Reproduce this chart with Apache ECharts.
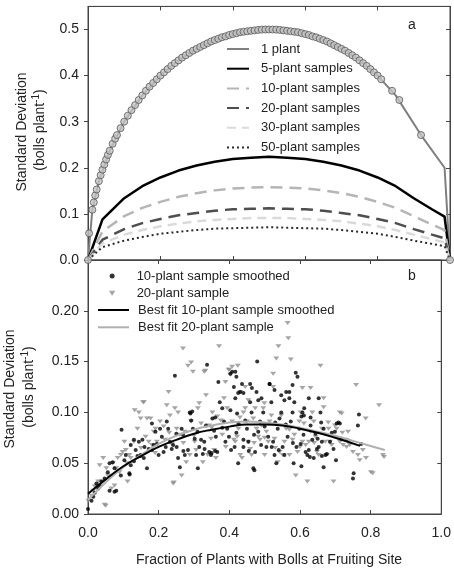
<!DOCTYPE html>
<html>
<head>
<meta charset="utf-8">
<script src="https://cdn.jsdelivr.net/npm/echarts@6/dist/echarts.min.js"></script>
<style>
  html, body { margin: 0; padding: 0; background: #fff; }
  #chart { width: 454px; height: 570px; }
</style>
</head>
<body>
<div id="chart"></div>
<script>
// panel a: SD of fraction vs fraction, for different sample sizes
const fracGrid = [0, 0.04, 0.1, 0.15, 0.2, 0.25, 0.3, 0.35, 0.4, 0.45, 0.5, 0.55, 0.6, 0.65, 0.7, 0.75, 0.8, 0.85, 0.9, 0.95, 0.985, 1.0];
const sd5  = [0, 0.088, 0.134, 0.160, 0.179, 0.194, 0.205, 0.213, 0.219, 0.222, 0.224, 0.222, 0.219, 0.213, 0.205, 0.194, 0.179, 0.160, 0.134, 0.110, 0.094, 0];
const sd10 = [0, 0.062, 0.095, 0.113, 0.126, 0.137, 0.145, 0.151, 0.155, 0.157, 0.158, 0.157, 0.155, 0.151, 0.145, 0.137, 0.126, 0.113, 0.095, 0.077, 0.065, 0];
const sd20 = [0, 0.044, 0.067, 0.080, 0.089, 0.097, 0.102, 0.107, 0.110, 0.111, 0.112, 0.111, 0.110, 0.107, 0.102, 0.097, 0.089, 0.080, 0.067, 0.055, 0.047, 0];
const sd30 = [0, 0.036, 0.055, 0.065, 0.073, 0.079, 0.084, 0.087, 0.089, 0.091, 0.091, 0.091, 0.089, 0.087, 0.084, 0.079, 0.073, 0.065, 0.055, 0.045, 0.038, 0];
const sd50 = [0, 0.028, 0.042, 0.050, 0.057, 0.061, 0.065, 0.068, 0.069, 0.070, 0.071, 0.070, 0.069, 0.068, 0.065, 0.061, 0.057, 0.050, 0.042, 0.035, 0.030, 0];

// 1 plant line
const onePlantX = [0, 0.012, 0.03, 0.06, 0.1, 0.15, 0.2, 0.25, 0.3, 0.35, 0.4, 0.45, 0.5, 0.55, 0.6, 0.65, 0.7, 0.75, 0.8, 0.85, 0.92, 0.985, 1.0];
const onePlantY = [0, 0.109, 0.171, 0.237, 0.300, 0.357, 0.400, 0.433, 0.458, 0.477, 0.490, 0.497, 0.500, 0.497, 0.490, 0.477, 0.458, 0.433, 0.400, 0.357, 0.271, 0.200, 0];

// 1 plant observed (circles)
const obsX = [0, 0.003, 0.012, 0.016, 0.02, 0.024, 0.03, 0.035, 0.04, 0.045, 0.05, 0.055, 0.06, 0.068, 0.075, 0.08, 0.09, 0.1, 0.11, 0.12, 0.13, 0.14, 0.15, 0.16, 0.17, 0.18, 0.19, 0.2, 0.21, 0.22, 0.23, 0.24, 0.25, 0.26, 0.27, 0.28, 0.29, 0.3, 0.31, 0.32, 0.33, 0.34, 0.35, 0.36, 0.37, 0.38, 0.39, 0.4, 0.41, 0.42, 0.43, 0.44, 0.45, 0.46, 0.47, 0.48, 0.49, 0.5, 0.51, 0.52, 0.53, 0.54, 0.55, 0.56, 0.57, 0.58, 0.59, 0.6, 0.61, 0.62, 0.63, 0.64, 0.65, 0.66, 0.67, 0.68, 0.69, 0.7, 0.71, 0.72, 0.73, 0.74, 0.75, 0.76, 0.77, 0.78, 0.79, 0.8, 0.81, 0.84, 0.86, 0.92, 1.0];
const obsY = [0, 0.058, 0.109, 0.125, 0.140, 0.153, 0.171, 0.184, 0.196, 0.207, 0.218, 0.228, 0.237, 0.252, 0.263, 0.271, 0.286, 0.300, 0.313, 0.325, 0.336, 0.347, 0.357, 0.367, 0.376, 0.384, 0.392, 0.400, 0.407, 0.414, 0.421, 0.427, 0.433, 0.439, 0.444, 0.449, 0.454, 0.458, 0.462, 0.466, 0.470, 0.474, 0.477, 0.480, 0.483, 0.485, 0.488, 0.490, 0.492, 0.494, 0.495, 0.496, 0.497, 0.498, 0.499, 0.4996, 0.4999, 0.500, 0.4999, 0.4996, 0.499, 0.498, 0.497, 0.496, 0.495, 0.494, 0.492, 0.490, 0.488, 0.485, 0.483, 0.480, 0.477, 0.474, 0.470, 0.466, 0.462, 0.458, 0.454, 0.449, 0.444, 0.439, 0.433, 0.427, 0.421, 0.414, 0.407, 0.400, 0.392, 0.367, 0.347, 0.271, 0];

// panel b: scatter [fraction, sd]
const sample10 = [
  [0.0, 0.005], [0.010, 0.013], [0.015, 0.017], [0.019, 0.021], [0.029, 0.025], [0.033, 0.028], [0.024, 0.030], [0.038, 0.032],
  [0.047, 0.035], [0.056, 0.041], [0.061, 0.050], [0.070, 0.051], [0.075, 0.045], [0.080, 0.023], [0.093, 0.038], [0.103, 0.053],
  [0.107, 0.058], [0.117, 0.040], [0.121, 0.068], [0.121, 0.048], [0.130, 0.073], [0.135, 0.063], [0.144, 0.071], [0.154, 0.073],
  [0.149, 0.058], [0.158, 0.055], [0.167, 0.045], [0.172, 0.064], [0.181, 0.063], [0.186, 0.068], [0.181, 0.089], [0.191, 0.081],
  [0.195, 0.069], [0.204, 0.084], [0.209, 0.076], [0.214, 0.061], [0.223, 0.091], [0.227, 0.084], [0.232, 0.071], [0.237, 0.064],
  [0.241, 0.068], [0.246, 0.136], [0.251, 0.066], [0.255, 0.055], [0.260, 0.046], [0.265, 0.084], [0.269, 0.078], [0.274, 0.058],
  [0.283, 0.063], [0.288, 0.100], [0.292, 0.092], [0.297, 0.084], [0.302, 0.074], [0.306, 0.058], [0.311, 0.045], [0.315, 0.066],
  [0.320, 0.073], [0.325, 0.059], [0.329, 0.071], [0.334, 0.087], [0.337, 0.147], [0.343, 0.061], [0.348, 0.058], [0.352, 0.094],
  [0.357, 0.082], [0.362, 0.076], [0.366, 0.061], [0.369, 0.130], [0.373, 0.110], [0.380, 0.104], [0.385, 0.091], [0.389, 0.071],
  [0.394, 0.084], [0.399, 0.076], [0.403, 0.102], [0.408, 0.140], [0.413, 0.125], [0.417, 0.114], [0.422, 0.099], [0.426, 0.089],
  [0.431, 0.120], [0.436, 0.128], [0.440, 0.073], [0.445, 0.092], [0.450, 0.084], [0.454, 0.071], [0.459, 0.110], [0.463, 0.100],
  [0.468, 0.045], [0.473, 0.061], [0.479, 0.150], [0.482, 0.081], [0.487, 0.091], [0.491, 0.114], [0.496, 0.100], [0.500, 0.086],
  [0.505, 0.066], [0.510, 0.076], [0.514, 0.128], [0.519, 0.110], [0.524, 0.071], [0.528, 0.058], [0.533, 0.050], [0.537, 0.084],
  [0.542, 0.094], [0.547, 0.100], [0.551, 0.066], [0.556, 0.058], [0.561, 0.120], [0.565, 0.076], [0.570, 0.114], [0.574, 0.091],
  [0.579, 0.100], [0.584, 0.110], [0.588, 0.139], [0.593, 0.135], [0.598, 0.084], [0.602, 0.069], [0.607, 0.100], [0.611, 0.097],
  [0.616, 0.061], [0.621, 0.058], [0.625, 0.114], [0.630, 0.087], [0.635, 0.073], [0.639, 0.055], [0.644, 0.079], [0.648, 0.064],
  [0.653, 0.066], [0.658, 0.100], [0.662, 0.071], [0.667, 0.084], [0.672, 0.058], [0.676, 0.059], [0.685, 0.071], [0.695, 0.064],
  [0.699, 0.081], [0.704, 0.089], [0.718, 0.074], [0.732, 0.073], [0.750, 0.035], [0.752, 0.040], [0.764, 0.087], [0.767, 0.098],
  [0.773, 0.069], [0.702, 0.053], [0.667, 0.046], [0.662, 0.057], [0.628, 0.056], [0.625, 0.063], [0.604, 0.047], [0.582, 0.050],
  [0.471, 0.043], [0.425, 0.050], [0.095, 0.083], [0.118, 0.039], [0.075, 0.022], [0.061, 0.023], [0.140, 0.057], [0.149, 0.057],
  [0.290, 0.099], [0.295, 0.101], [0.350, 0.060], [0.360, 0.062], [0.405, 0.063], [0.415, 0.066], [0.455, 0.062], [0.520, 0.066],
  [0.540, 0.063], [0.590, 0.066], [0.650, 0.074], [0.690, 0.080], [0.403, 0.138], [0.417, 0.140], [0.420, 0.135], [0.425, 0.119],
  [0.440, 0.119], [0.459, 0.128], [0.464, 0.124], [0.477, 0.120], [0.482, 0.112], [0.514, 0.128], [0.528, 0.122], [0.547, 0.117],
  [0.556, 0.112], [0.570, 0.120], [0.579, 0.127], [0.612, 0.104], [0.604, 0.096], [0.653, 0.114], [0.709, 0.090], [0.713, 0.089],
  [0.360, 0.095], [0.380, 0.085], [0.420, 0.080], [0.440, 0.066], [0.470, 0.078], [0.490, 0.068], [0.530, 0.090], [0.560, 0.088],
  [0.580, 0.070], [0.610, 0.078], [0.630, 0.095], [0.660, 0.090], [0.310, 0.081], [0.330, 0.064], [0.270, 0.062], [0.250, 0.079],
  [0.220, 0.066], [0.200, 0.058], [0.160, 0.066], [0.130, 0.052]
];
const sample20 = [
  [0.001, 0.013], [0.010, 0.018], [0.015, 0.023], [0.019, 0.027], [0.024, 0.028], [0.029, 0.032], [0.033, 0.048], [0.038, 0.032],
  [0.043, 0.055], [0.047, 0.009], [0.052, 0.045], [0.056, 0.038], [0.066, 0.025], [0.070, 0.050], [0.075, 0.028], [0.084, 0.055],
  [0.089, 0.041], [0.093, 0.058], [0.098, 0.061], [0.103, 0.071], [0.107, 0.063], [0.112, 0.032], [0.117, 0.058], [0.121, 0.055],
  [0.130, 0.071], [0.140, 0.084], [0.144, 0.100], [0.149, 0.094], [0.158, 0.110], [0.163, 0.076], [0.167, 0.094], [0.172, 0.071],
  [0.177, 0.094], [0.181, 0.068], [0.186, 0.081], [0.191, 0.084], [0.195, 0.071], [0.204, 0.091], [0.214, 0.086], [0.218, 0.073],
  [0.223, 0.107], [0.228, 0.120], [0.232, 0.097], [0.237, 0.069], [0.241, 0.030], [0.246, 0.104], [0.251, 0.084], [0.255, 0.100],
  [0.260, 0.078], [0.265, 0.038], [0.269, 0.163], [0.274, 0.081], [0.278, 0.051], [0.283, 0.146], [0.288, 0.058], [0.292, 0.091],
  [0.297, 0.140], [0.302, 0.071], [0.306, 0.063], [0.311, 0.104], [0.315, 0.109], [0.320, 0.089], [0.325, 0.051], [0.329, 0.140],
  [0.334, 0.117], [0.339, 0.058], [0.343, 0.087], [0.348, 0.074], [0.352, 0.100], [0.357, 0.063], [0.362, 0.055], [0.366, 0.096],
  [0.371, 0.165], [0.376, 0.092], [0.380, 0.078], [0.385, 0.114], [0.389, 0.130], [0.394, 0.104], [0.399, 0.142], [0.403, 0.137],
  [0.408, 0.091], [0.413, 0.073], [0.417, 0.071], [0.422, 0.076], [0.426, 0.084], [0.431, 0.058], [0.436, 0.055], [0.440, 0.100],
  [0.445, 0.104], [0.450, 0.091], [0.454, 0.071], [0.459, 0.064], [0.463, 0.058], [0.468, 0.094], [0.473, 0.104], [0.477, 0.084],
  [0.482, 0.076], [0.487, 0.073], [0.491, 0.087], [0.496, 0.104], [0.500, 0.058], [0.505, 0.081], [0.510, 0.071], [0.514, 0.091],
  [0.519, 0.097], [0.524, 0.125], [0.528, 0.074], [0.533, 0.153], [0.537, 0.051], [0.542, 0.061], [0.547, 0.097], [0.551, 0.058],
  [0.556, 0.071], [0.561, 0.084], [0.565, 0.188], [0.567, 0.173], [0.570, 0.058], [0.574, 0.152], [0.579, 0.073], [0.584, 0.078],
  [0.588, 0.038], [0.593, 0.061], [0.598, 0.091], [0.602, 0.100], [0.607, 0.071], [0.611, 0.089], [0.616, 0.068], [0.621, 0.032],
  [0.625, 0.071], [0.630, 0.081], [0.635, 0.100], [0.639, 0.091], [0.644, 0.076], [0.648, 0.061], [0.653, 0.058], [0.658, 0.146],
  [0.662, 0.084], [0.667, 0.114], [0.672, 0.071], [0.676, 0.058], [0.681, 0.084], [0.685, 0.071], [0.690, 0.068], [0.695, 0.032],
  [0.699, 0.087], [0.704, 0.084], [0.713, 0.071], [0.722, 0.068], [0.732, 0.066], [0.741, 0.068], [0.750, 0.061], [0.759, 0.127],
  [0.764, 0.058], [0.769, 0.053], [0.778, 0.063], [0.787, 0.055], [0.801, 0.041], [0.806, 0.040], [0.824, 0.107], [0.835, 0.058],
  [0.838, 0.056], [0.539, 0.165], [0.292, 0.149], [0.332, 0.141], [0.132, 0.102], [0.156, 0.110], [0.050, 0.008], [0.243, 0.031],
  [0.399, 0.142], [0.408, 0.145], [0.424, 0.146], [0.445, 0.125], [0.431, 0.120], [0.454, 0.112], [0.499, 0.109], [0.524, 0.138],
  [0.607, 0.124], [0.630, 0.124], [0.667, 0.105], [0.713, 0.100], [0.718, 0.099], [0.736, 0.081], [0.786, 0.094],
  [0.350, 0.085], [0.390, 0.066], [0.430, 0.095], [0.470, 0.070], [0.500, 0.075], [0.530, 0.065], [0.570, 0.083], [0.600, 0.066],
  [0.640, 0.070], [0.680, 0.090], [0.720, 0.080], [0.300, 0.077], [0.270, 0.070], [0.230, 0.080], [0.190, 0.060], [0.150, 0.065],
  [0.110, 0.050], [0.080, 0.045]
];

// best-fit curves
const fit10X = [0, 0.05, 0.1, 0.15, 0.2, 0.25, 0.3, 0.35, 0.4, 0.45, 0.5, 0.55, 0.6, 0.65, 0.7, 0.77];
const fit10Y = [0.020, 0.034, 0.047, 0.057, 0.066, 0.073, 0.079, 0.083, 0.086, 0.088, 0.088, 0.087, 0.084, 0.080, 0.075, 0.067];
const fit20X = [0, 0.05, 0.1, 0.15, 0.2, 0.25, 0.3, 0.35, 0.4, 0.45, 0.5, 0.55, 0.6, 0.65, 0.7, 0.75, 0.8, 0.84];
const fit20Y = [0.014, 0.031, 0.046, 0.058, 0.069, 0.077, 0.083, 0.087, 0.090, 0.091, 0.090, 0.088, 0.085, 0.081, 0.077, 0.072, 0.067, 0.063];

const xTicks = ['0.0', '0.2', '0.4', '0.6', '0.8', '1.0'];

const FONT = 'Liberation Sans, Arial, sans-serif';
const INK = '#222';
const FRAME = '#444';

function pairs(xs, ys) {
  return xs.map((x, i) => [x, ys[i]]);
}

const chart = echarts.init(document.getElementById('chart'), null, { renderer: 'canvas' });

function xAx(grid, pos, labels) {
  return {
    type: 'value', gridIndex: grid, position: pos, min: 0, max: 1, interval: 0.2,
    axisLine: { show: true, onZero: false, lineStyle: { color: FRAME } },
    axisTick: { show: true, inside: true, length: 4, lineStyle: { color: FRAME } },
    axisLabel: {
      show: labels, margin: 12, fontSize: 14, fontFamily: FONT, color: INK,
      formatter: (v) => xTicks[Math.round(v / 0.2)]
    },
    splitLine: { show: false }
  };
}
function yAx(grid, pos, max, step, digits, labels) {
  return {
    type: 'value', gridIndex: grid, position: pos, min: 0, max: max, interval: step,
    axisLine: { show: true, onZero: false, lineStyle: { color: FRAME } },
    axisTick: { show: true, inside: pos === 'right', length: 4, lineStyle: { color: FRAME } },
    axisLabel: {
      show: labels, margin: 9, fontSize: 14, fontFamily: FONT, color: INK,
      showMaxLabel: false,
      formatter: (v) => v.toFixed(digits)
    },
    splitLine: { show: false }
  };
}

function lineSeries(name, xs, ys, color, width, dash) {
  return {
    name: name, type: 'line', xAxisIndex: 0, yAxisIndex: 0,
    data: pairs(xs, ys), symbol: 'none', smooth: false,
    lineStyle: { color: color, width: width, type: dash || 'solid' },
    itemStyle: { color: color },
    z: 3
  };
}

const downTri = 'path://M0,0L10,0L5,8Z';
const legendText = { fontSize: 13, fontFamily: FONT, color: INK };

chart.setOption({
  animation: false,
  backgroundColor: '#fff',
  grid: [
    { left: 88, top: 6.4, width: 362, height: 253.6, show: true, borderColor: FRAME, borderWidth: 1 },
    { left: 88, top: 260, width: 362, height: 254, show: true, borderColor: FRAME, borderWidth: 1 }
  ],
  xAxis: [
    xAx(0, 'bottom', false),
    xAx(0, 'top', false),
    xAx(1, 'bottom', true),
    xAx(1, 'top', false)
  ],
  yAxis: [
    yAx(0, 'left', 0.55, 0.1, 1, true),
    yAx(0, 'right', 0.55, 0.1, 1, false),
    yAx(1, 'left', 0.25, 0.05, 2, true),
    yAx(1, 'right', 0.25, 0.05, 2, false)
  ],
  legend: [
    {
      orient: 'vertical', left: 226, top: 41, padding: 0, itemWidth: 22, itemHeight: 1, itemGap: 3.7,
      selectedMode: false,
      textStyle: Object.assign({ lineHeight: 16, padding: [0, 0, 0, 7] }, legendText),
      data: ['1 plant', '5-plant samples', '10-plant samples', '20-plant samples', '30-plant samples', '50-plant samples']
    },
    {
      orient: 'vertical', left: 109, top: 269, padding: 0, itemWidth: 31, itemHeight: 5, itemGap: 3.3,
      selectedMode: false,
      textStyle: Object.assign({ lineHeight: 14, padding: [0, 0, 0, 4] }, legendText),
      data: ['10-plant sample smoothed', '20-plant sample']
    },
    {
      orient: 'vertical', left: 97, top: 303, padding: 0, itemWidth: 31, itemHeight: 1, itemGap: 3.3,
      selectedMode: false,
      textStyle: Object.assign({ lineHeight: 14, padding: [0, 0, 0, 4] }, legendText),
      data: ['Best fit 10-plant sample smoothed', 'Best fit 20-plant sample']
    }
  ],
  graphic: [
    { type: 'text', x: 412, y: 25, style: { text: 'a', font: '14px ' + FONT, fill: INK, align: 'center', verticalAlign: 'middle' } },
    { type: 'text', x: 412, y: 276, style: { text: 'b', font: '14px ' + FONT, fill: INK, align: 'center', verticalAlign: 'middle' } },
    { type: 'text', x: 22, y: 132, rotation: Math.PI / 2, style: { text: 'Standard Deviation', font: '14px ' + FONT, fill: INK, align: 'center', verticalAlign: 'middle' } },
    { type: 'text', x: 40, y: 130, rotation: Math.PI / 2, style: {
        text: '(bolls plant{sup|-1})', font: '14px ' + FONT, fill: INK, align: 'center', verticalAlign: 'middle',
        rich: { sup: { fontSize: 10, fontFamily: FONT, fill: INK, verticalAlign: 'top', padding: [0, 0, 8, 0] } }
    } },
    { type: 'text', x: 10, y: 389, rotation: Math.PI / 2, style: { text: 'Standard Deviation', font: '14px ' + FONT, fill: INK, align: 'center', verticalAlign: 'middle' } },
    { type: 'text', x: 29, y: 387, rotation: Math.PI / 2, style: {
        text: '(bolls plant{sup|-1})', font: '14px ' + FONT, fill: INK, align: 'center', verticalAlign: 'middle',
        rich: { sup: { fontSize: 10, fontFamily: FONT, fill: INK, verticalAlign: 'top', padding: [0, 0, 8, 0] } }
    } },
    { type: 'text', x: 269, y: 560, style: { text: 'Fraction of Plants with Bolls at Fruiting Site', font: '14px ' + FONT, fill: INK, align: 'center', verticalAlign: 'middle' } }
  ],
  series: [
    lineSeries('1 plant', onePlantX, onePlantY, '#7f7f7f', 2),
    {
      name: '1 plant observed', type: 'scatter', xAxisIndex: 0, yAxisIndex: 0,
      data: pairs(obsX, obsY), symbol: 'circle', symbolSize: 7,
      itemStyle: { color: '#c4c4c4', borderColor: '#585858', borderWidth: 1 },
      z: 4
    },
    lineSeries('5-plant samples', fracGrid, sd5, '#000', 2.5),
    lineSeries('10-plant samples', fracGrid, sd10, '#b5b5b5', 2.5, [12, 7]),
    lineSeries('20-plant samples', fracGrid, sd20, '#4e4e4e', 2.5, [12, 7]),
    lineSeries('30-plant samples', fracGrid, sd30, '#dadada', 2.5, [9, 6]),
    lineSeries('50-plant samples', fracGrid, sd50, '#2a2a2a', 2, [2, 3]),
    {
      name: '10-plant sample smoothed', type: 'scatter', xAxisIndex: 2, yAxisIndex: 2,
      data: sample10, symbol: 'circle', symbolSize: 4,
      itemStyle: { color: '#000' }, z: 3
    },
    {
      name: '20-plant sample', type: 'scatter', xAxisIndex: 2, yAxisIndex: 2,
      data: sample20, symbol: downTri, symbolSize: [6, 5], symbolKeepAspect: true,
      itemStyle: { color: '#8e8e8e' }, z: 2
    },
    {
      name: 'Best fit 10-plant sample smoothed', type: 'line', xAxisIndex: 2, yAxisIndex: 2,
      data: pairs(fit10X, fit10Y), symbol: 'none', smooth: true,
      lineStyle: { color: '#000', width: 2 }, itemStyle: { color: '#000' }, z: 5
    },
    {
      name: 'Best fit 20-plant sample', type: 'line', xAxisIndex: 2, yAxisIndex: 2,
      data: pairs(fit20X, fit20Y), symbol: 'none', smooth: true,
      lineStyle: { color: '#b0b0b0', width: 2 }, itemStyle: { color: '#b0b0b0' }, z: 4
    }
  ]
});
</script>
</body>
</html>
